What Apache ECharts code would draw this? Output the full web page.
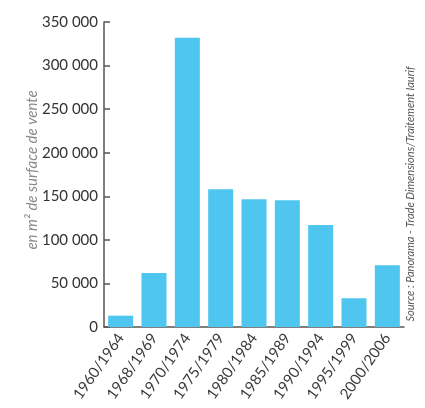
<!DOCTYPE html>
<html>
<head>
<meta charset="utf-8">
<style>
  html, body { margin: 0; padding: 0; background: #ffffff; }
  #chart { width: 425px; height: 408px; }
</style>
<script src="https://cdn.jsdelivr.net/npm/echarts@6/dist/echarts.min.js"></script>
</head>
<body>
<div id="chart"></div>
<script>
// Periods of opening
const periods = ['1960/1964', '1968/1969', '1970/1974', '1975/1979', '1980/1984',
                 '1985/1989', '1990/1994', '1995/1999', '2000/2006'];
// Sales floor area (m²) per period
const surfaces = [13000, 62000, 332000, 158000, 146500, 145500, 117000, 33000, 71000];
// Value axis ticks
const yTicks = [0, 50000, 100000, 150000, 200000, 250000, 300000, 350000];

const axisColor = '#555555';
const fmt = v => v === 0 ? '0' : String(v).replace(/\B(?=(\d{3})+(?!\d))/g, ' ');

const chart = echarts.init(document.getElementById('chart'), null, { renderer: 'canvas' });
chart.setOption({
  animation: false,
  grid: { left: 104, right: 21, top: 22, bottom: 81, containLabel: false },
  xAxis: {
    type: 'category',
    data: periods,
    boundaryGap: true,
    axisLine: { lineStyle: { color: axisColor, width: 1.5 } },
    axisTick: { inside: true, length: 6, lineStyle: { color: axisColor, width: 1.5 } },
    axisLabel: {
      rotate: 55, margin: 8, color: '#3a3a3a',
      fontFamily: 'Lato', fontSize: 15
    }
  },
  yAxis: {
    type: 'value',
    min: yTicks[0],
    max: yTicks[yTicks.length - 1],
    interval: yTicks[1] - yTicks[0],
    splitLine: { show: false },
    axisLine: { show: true, lineStyle: { color: axisColor, width: 1.5 } },
    axisTick: { show: true, inside: true, length: 6, lineStyle: { color: axisColor, width: 1.5 } },
    axisLabel: {
      margin: 6, color: '#333333', fontFamily: 'Lato', fontSize: 15,
      formatter: fmt
    }
  },
  series: [{
    type: 'bar',
    data: surfaces,
    barWidth: 25,
    itemStyle: { color: '#4fc6f0' }
  }],
  graphic: [{
    // value axis title
    type: 'text',
    x: 32,
    y: 170,
    rotation: Math.PI / 2,
    style: {
      text: 'en m² de surface de vente',
      fill: '#8a8a8a',
      align: 'center',
      verticalAlign: 'middle',
      font: 'italic 15px "Lato", sans-serif'
    }
  }, {
    // source note
    type: 'text',
    x: 410,
    y: 194,
    rotation: Math.PI / 2,
    style: {
      text: 'Source : Panorama - Trade Dimensions/Traitement Iaurif',
      fill: '#555555',
      align: 'center',
      verticalAlign: 'middle',
      font: 'italic 11px "Liberation Sans Narrow", "Lato", sans-serif'
    }
  }]
});
</script>
</body>
</html>
